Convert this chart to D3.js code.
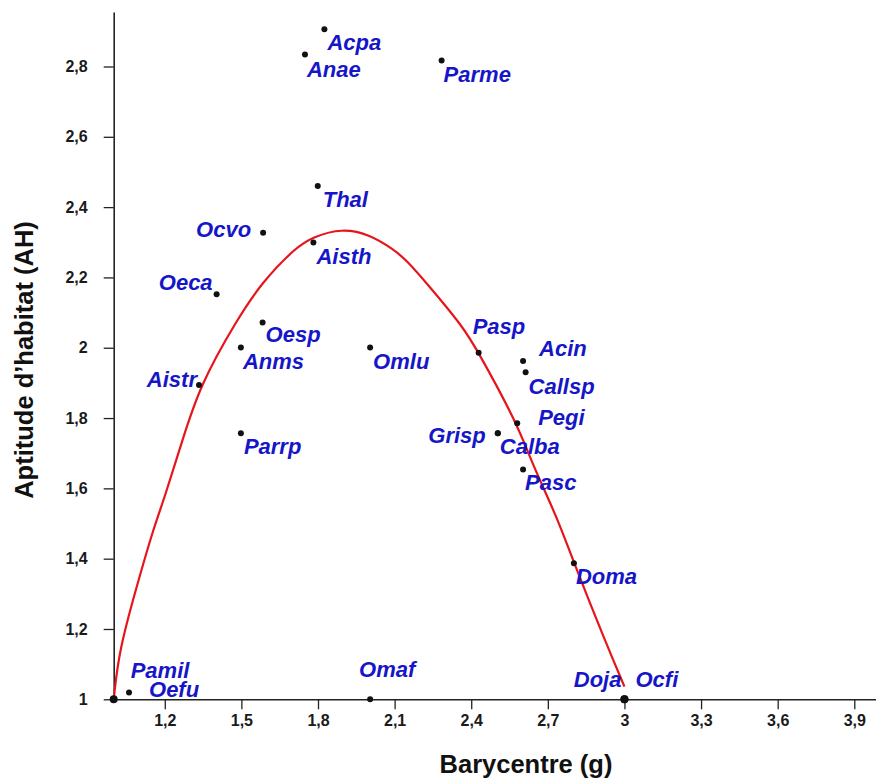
<!DOCTYPE html>
<html>
<head>
<meta charset="utf-8">
<script src="https://cdn.jsdelivr.net/npm/d3@7"></script>
<style>
  html, body { margin: 0; padding: 0; background: #fff; }
  svg { display: block; }
</style>
</head>
<body>
<svg id="chart" width="876" height="783"></svg>
<script>
// ---- data ----
const species = ["Pamil","Oefu","Acpa","Anae","Parme","Thal","Aisth","Ocvo","Oeca","Oesp","Anms","Aistr","Parrp","Omlu","Pasp","Acin","Callsp","Pegi","Grisp","Calba","Pasc","Doma","Doja","Ocfi","Omaf"];
const barycentre = [1.00,1.06,1.825,1.749,2.284,1.799,1.782,1.585,1.403,1.583,1.498,1.334,1.498,2.004,2.429,2.603,2.613,2.580,2.504,2.504,2.603,2.802,3.00,3.00,2.004];
const aptitude  = [1.00,1.019,2.906,2.834,2.817,2.460,2.299,2.327,2.152,2.072,2.001,1.894,1.757,2.001,1.986,1.962,1.930,1.785,1.757,1.757,1.654,1.387,1.00,1.00,1.00];

// fitted curve
const curveX = [1.000,1.021,1.094,1.154,1.200,1.266,1.338,1.482,1.581,1.714,1.780,1.893,2.004,2.095,2.147,2.226,2.368,2.429,2.580,2.643,2.735,2.802,2.922,3.000];
const curveY = [1.000,1.140,1.331,1.482,1.575,1.730,1.894,2.079,2.187,2.286,2.315,2.340,2.322,2.280,2.249,2.183,2.060,1.986,1.785,1.662,1.520,1.388,1.170,1.036];

const xTickValues = [1.2,1.5,1.8,2.1,2.4,2.7,3.0,3.3,3.6,3.9];
const xTickLabels = ["1,2","1,5","1,8","2,1","2,4","2,7","3","3,3","3,6","3,9"];
const yTickValues = [1.0,1.2,1.4,1.6,1.8,2.0,2.2,2.4,2.6,2.8];
const yTickLabels = ["1","1,2","1,4","1,6","1,8","2","2,2","2,4","2,6","2,8"];

const xTitle = "Barycentre (g)";
const yTitle = "Aptitude d\u2019habitat (AH)";

// ---- layout (label placement relative to its dot) ----
const labelLayout = {
  Pamil:[17,-21,"start"], Oefu:[20,4,"start"], Acpa:[3,21,"start"], Anae:[2,22,"start"],
  Parme:[2,21,"start"], Thal:[5,21,"start"], Aisth:[3,21,"start"], Ocvo:[-12,4,"end"],
  Oeca:[-4,-4,"end"], Oesp:[3,20,"start"], Anms:[2,22,"start"], Aistr:[-2,2,"end"],
  Parrp:[3,21,"start"], Omlu:[3,22,"start"], Pasp:[-6,-19,"start"], Acin:[16,-5,"start"],
  Callsp:[3,22,"start"], Pegi:[21,2,"start"], Grisp:[-12,10,"end"], Calba:[2,21,"start"],
  Pasc:[2,21,"start"], Doma:[2,21,"start"], Doja:[-3,-12,"end"], Ocfi:[11,-12,"start"],
  Omaf:[-11,-22,"start"]
};

const svg = d3.select("#chart");
const x = d3.scaleLinear().domain([1, 3.985]).range([113.7, 876]);
const y = d3.scaleLinear().domain([1, 2.955]).range([699.3, 12]);

const fontFam = "'Liberation Sans', Arial, sans-serif";

// axes
const xAxis = d3.axisBottom(x)
  .tickValues(xTickValues)
  .tickFormat((d, i) => xTickLabels[i])
  .tickSize(10).tickSizeOuter(0).tickPadding(5);
const yAxis = d3.axisLeft(y)
  .tickValues(yTickValues)
  .tickFormat((d, i) => yTickLabels[i])
  .tickSize(10).tickSizeOuter(0).tickPadding(16);

const gx = svg.append("g").attr("transform", `translate(0,${y(1)})`).call(xAxis);
const gy = svg.append("g").attr("transform", `translate(${x(1)},0)`).call(yAxis);
[gx, gy].forEach(g => {
  g.select(".domain").attr("stroke", "#222").attr("stroke-width", 1.6);
  g.selectAll(".tick line").attr("stroke", "#222").attr("stroke-width", 1.3);
  g.selectAll(".tick text")
    .attr("fill", "#1a1a1a")
    .style("font-family", fontFam)
    .style("font-weight", "bold")
    .style("font-size", "16px");
});

// axis titles
svg.append("text")
  .attr("x", 526).attr("y", 773)
  .attr("text-anchor", "middle")
  .style("font-family", fontFam).style("font-weight", "bold").style("font-size", "25.5px")
  .attr("fill", "#111")
  .text(xTitle);
svg.append("text")
  .attr("transform", "translate(33,360) rotate(-90)")
  .attr("text-anchor", "middle")
  .style("font-family", fontFam).style("font-weight", "bold").style("font-size", "25.5px")
  .attr("fill", "#111")
  .text(yTitle);

// curve
const curvePts = curveX.map((v, i) => [v, curveY[i]]);
svg.append("path")
  .datum(curvePts)
  .attr("fill", "none")
  .attr("stroke", "#e8141c")
  .attr("stroke-width", 2.2)
  .attr("d", d3.line().x(d => x(d[0])).y(d => y(d[1])).curve(d3.curveBasis));

// points
const pts = species.map((s, i) => ({ name: s, bx: barycentre[i], ah: aptitude[i] }));
svg.append("g").selectAll("circle").data(pts).join("circle")
  .attr("cx", d => x(d.bx)).attr("cy", d => y(d.ah))
  .attr("r", d => d.ah === 1 && (d.bx === 1 || d.bx === 3) ? 4 : 3)
  .attr("fill", "#111");

// labels
svg.append("g").selectAll("text").data(pts).join("text")
  .attr("x", d => x(d.bx) + labelLayout[d.name][0])
  .attr("y", d => y(d.ah) + labelLayout[d.name][1])
  .attr("text-anchor", d => labelLayout[d.name][2])
  .style("font-family", fontFam)
  .style("font-weight", "bold")
  .style("font-style", "italic")
  .style("font-size", "22px")
  .attr("fill", "#1616c8")
  .text(d => d.name);
</script>
</body>
</html>
